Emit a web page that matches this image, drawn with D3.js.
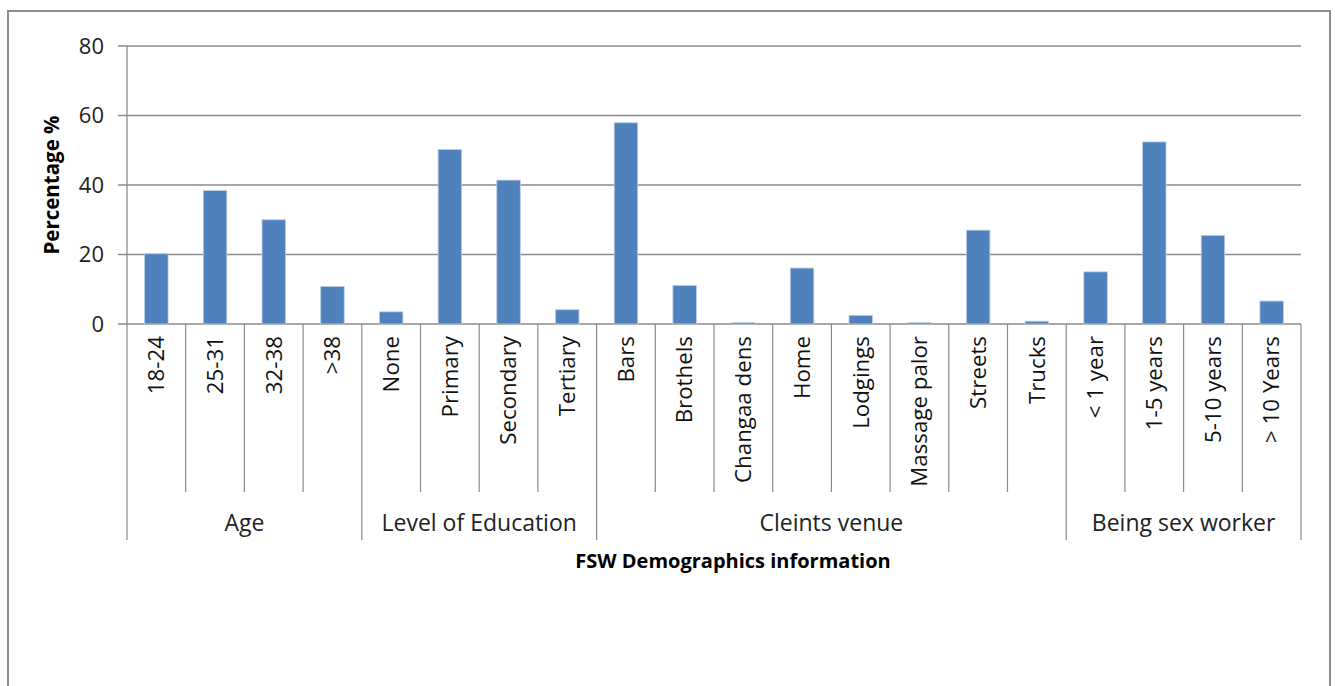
<!DOCTYPE html>
<html>
<head>
<meta charset="utf-8">
<script src="https://cdn.jsdelivr.net/npm/d3@7"></script>
<style>
  body { margin: 0; background: #fff; }
  svg { display: block; font-family: "Open Sans", "Noto Sans", sans-serif; }
</style>
</head>
<body>
<svg class="chart"></svg>
<script>
const categories = ["18-24", "25-31", "32-38", ">38",
  "None", "Primary", "Secondary", "Tertiary",
  "Bars", "Brothels", "Changaa dens", "Home", "Lodgings", "Massage palor", "Streets", "Trucks",
  "< 1 year", "1-5 years", "5-10 years", "> 10 Years"];
const values = [20.2, 38.4, 30.0, 10.8,
  3.5, 50.2, 41.4, 4.1,
  57.9, 11.1, 0.4, 16.1, 2.5, 0.4, 27.0, 0.8,
  15.0, 52.4, 25.5, 6.6];
const groups = ["Age", "Level of Education", "Cleints venue", "Being sex worker"];
const groupSizes = [4, 4, 8, 4];
const yTicks = [0, 20, 40, 60, 80];

const width = 1335, height = 686;
const svg = d3.select(".chart").attr("width", width).attr("height", height);

// outer frame
svg.append("rect")
  .attr("x", 8).attr("y", 11)
  .attr("width", 1322).attr("height", 700)
  .attr("fill", "#fff").attr("stroke", "#8c8c8c").attr("stroke-width", 2);

let plotLeft = 127, plotRight = 1301, plotTop = 46, plotBottom = 324;

let x = d3.scaleBand().domain(categories).range([plotLeft, plotRight]).paddingInner(0).paddingOuter(0);
let y = d3.scaleLinear().domain([0, 80]).range([plotBottom, plotTop]);

// gridlines
svg.append("g").selectAll("line").data(yTicks).join("line")
  .attr("x1", plotLeft - 9).attr("x2", plotRight)
  .attr("y1", d => y(d)).attr("y2", d => y(d))
  .attr("stroke", "#8a8a8a").attr("stroke-width", 1.3);

// y axis line
svg.append("line")
  .attr("x1", plotLeft).attr("x2", plotLeft).attr("y1", plotTop).attr("y2", plotBottom)
  .attr("stroke", "#8a8a8a").attr("stroke-width", 1.3);

// y tick labels
svg.append("g").selectAll("text").data(yTicks).join("text")
  .attr("x", 104).attr("y", d => y(d))
  .attr("dy", "0.35em")
  .attr("text-anchor", "end")
  .attr("font-size", 22).attr("fill", "#222")
  .text(d => d);

// bars
let bw = x.bandwidth() * 0.4;
svg.append("g").selectAll("rect").data(values).join("rect")
  .attr("x", (d, i) => x(categories[i]) + (x.bandwidth() - bw) / 2)
  .attr("y", d => y(d))
  .attr("width", bw)
  .attr("height", d => y(0) - y(d))
  .attr("fill", "#4f81bd")
  .attr("stroke", "#b9cde5").attr("stroke-width", 0.8);

// category boundary lines
let groupEdges = [0];
groupSizes.forEach(n => groupEdges.push(groupEdges[groupEdges.length - 1] + n));
for (let i = 0; i <= categories.length; i++) {
  let xp = i < categories.length ? x(categories[i]) : plotRight;
  let isGroup = groupEdges.includes(i);
  svg.append("line")
    .attr("x1", xp).attr("x2", xp)
    .attr("y1", plotBottom).attr("y2", isGroup ? 540 : 492)
    .attr("stroke", "#8a8a8a").attr("stroke-width", 1.2);
}

// category labels
svg.append("g").selectAll("text").data(categories).join("text")
  .attr("transform", d => "translate(" + (x(d) + x.bandwidth() / 2) + ",336) rotate(-90)")
  .attr("dy", "0.35em")
  .attr("text-anchor", "end")
  .attr("font-size", 22.3).attr("fill", "#111")
  .text(d => d);

// group labels
groups.forEach((g, i) => {
  let x0 = x(categories[groupEdges[i]]);
  let x1 = groupEdges[i + 1] < categories.length ? x(categories[groupEdges[i + 1]]) : plotRight;
  svg.append("text")
    .attr("x", (x0 + x1) / 2).attr("y", 523)
    .attr("dy", "0.35em")
    .attr("text-anchor", "middle")
    .attr("font-size", 23).attr("fill", "#222")
    .text(g);
});

// axis titles
svg.append("text")
  .attr("x", 733).attr("y", 561)
  .attr("dy", "0.35em")
  .attr("text-anchor", "middle")
  .attr("font-size", 20).attr("font-weight", "bold").attr("fill", "#000")
  .text("FSW Demographics information");

svg.append("text")
  .attr("transform", "translate(52," + (plotTop + plotBottom) / 2 + ") rotate(-90)")
  .attr("dy", "0.35em")
  .attr("text-anchor", "middle")
  .attr("font-size", 20.5).attr("font-weight", "bold").attr("fill", "#000")
  .text("Percentage %");
</script>
</body>
</html>
